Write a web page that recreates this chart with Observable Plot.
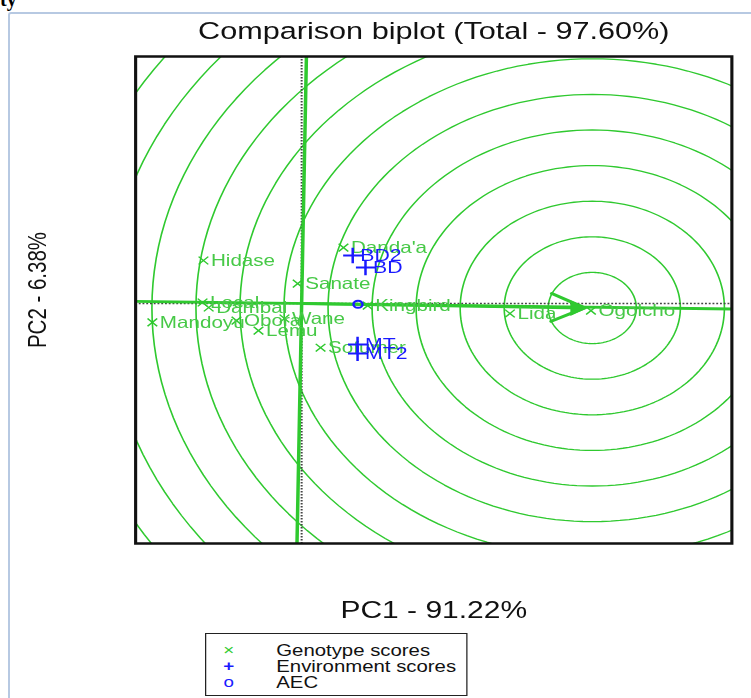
<!DOCTYPE html>
<html>
<head>
<meta charset="utf-8">
<script src="https://cdn.jsdelivr.net/npm/d3@7"></script>
<script src="https://cdn.jsdelivr.net/npm/@observablehq/plot@0.6"></script>
<style>
  html, body { margin: 0; padding: 0; background: #fff; overflow: hidden; }
  body { width: 751px; height: 698px; position: relative; font-family: "Liberation Sans", Arial, sans-serif; }
  #edge { position: absolute; left: 8px; top: 12px; width: 800px; height: 800px;
          border-left: 2px solid #b7c9e2; border-top: 2px solid #b7c9e2; border-top-left-radius: 3px; }
  #head { position: absolute; left: 0px; top: -11px; font: bold 20px/20px "Liberation Serif", serif; color: #000; }
  #wrap { position: absolute; left: 0; top: 0; width: 601px; height: 698px;
          transform: scaleX(1.25); transform-origin: 0 0; }
  #chart { position: absolute; left: 0; top: 0; }
  #legend { position: absolute; left: 164px; top: 633px; width: 210px; height: 63px;
            border: 1.5px solid #222; box-sizing: border-box; background: #fff;
            font-size: 16.3px; line-height: 16px; padding-top: 8px; color: #111; }
  .row { display: flex; align-items: center; height: 16px; }
  .sym { width: 36px; text-align: center; font-size: 15px; }
  .lab { margin-left: 20px; white-space: nowrap; }
</style>
</head>
<body>
<div id="edge"></div>
<div id="head">ty</div>
<div id="wrap">
  <div id="chart"></div>
  <div id="legend">
    <div class="row"><span class="sym" style="color:#33cc33">×</span><span class="lab">Genotype scores</span></div>
    <div class="row"><span class="sym" style="color:#1a1aff;font-weight:bold">+</span><span class="lab">Environment scores</span></div>
    <div class="row"><span class="sym" style="color:#1a1aff">o</span><span class="lab">AEC</span></div>
  </div>
</div>
<script>
// ---- data ----
const genotypes = ["Hidase", "Danda'a", "Sanate", "Kingbird", "Local", "Dambal", "Mandoyu", "Obora", "Wane", "Lemu", "Sofumer", "Lida", "Ogolcho"];
const genoPC1 = [-2.23, 0.95, -0.09, 1.50, -2.25, -2.11, -3.39, -1.48, -0.39, -0.98, 0.43, 4.73, 6.57];
const genoPC2 = [1.21, 1.57, 0.56, -0.06, 0.03, -0.11, -0.53, -0.48, -0.42, -0.76, -1.24, -0.28, -0.20];

const environments = ["BD2", "BD", "MT", "MT2"];
const envPC1 = [1.16, 1.45, 1.27, 1.27];
const envPC2 = [1.35, 1.01, -1.15, -1.40];

const aecPoint = [1.28, -0.02];       // average environment coordinate
const idealPoint = [6.60, -0.125];    // ideal genotype (centre of the rings)
const ringRadii = [1, 2, 3, 4, 5, 6, 7, 8, 9, 10, 11, 12, 13];

const titleText = "Comparison biplot (Total - 97.60%)";
const xTitle = "PC1 - 91.22%";
const yTitle = "PC2 - 6.38%";

// ---- derived tables ----
const geno = genotypes.map((name, i) => ({name, x: genoPC1[i], y: genoPC2[i]}));
const env = environments.map((name, i) => ({name, x: envPC1[i], y: envPC2[i]}));

const ringPts = [];
for (const r of ringRadii) {
  for (let k = 0; k <= 360; k += 2) {
    const a = k * Math.PI / 180;
    ringPts.push({r, x: idealPoint[0] + r * Math.cos(a), y: idealPoint[1] + r * Math.sin(a)});
  }
}
const len = Math.hypot(aecPoint[0], aecPoint[1]);
const ux = aecPoint[0] / len, uy = aecPoint[1] / len;
const aecLine = [-20, 20].map(t => ({x: t * ux, y: t * uy}));
const ordLine = [-20, 20].map(t => ({x: -t * uy, y: t * ux}));

const green = "#2fc92f";
const labelGreen = "#47c947";
const blue = "#1a1aff";

const chart = Plot.plot({
  width: 601,
  height: 625,
  marginLeft: 108,
  marginRight: 16,
  marginTop: 56,
  marginBottom: 82,
  x: {domain: [-3.77, 9.77], axis: null},
  y: {domain: [-6.74, 6.94], axis: null},
  style: {fontFamily: "'Liberation Sans', Arial, sans-serif", background: "transparent", overflow: "visible"},
  marks: [
    Plot.line(ringPts, {x: "x", y: "y", z: "r", stroke: green, strokeWidth: 1.3, clip: true}),
    Plot.ruleX([0], {stroke: "#444", strokeWidth: 1.6, strokeDasharray: "1.5,1.5"}),
    Plot.ruleY([0], {stroke: "#444", strokeWidth: 1.6, strokeDasharray: "1.5,1.5"}),
    Plot.line(aecLine, {x: "x", y: "y", stroke: green, strokeWidth: 2.8, clip: true}),
    Plot.line(ordLine, {x: "x", y: "y", stroke: green, strokeWidth: 2.8, clip: true}),
    Plot.arrow([{x1: 0, y1: 0, x2: idealPoint[0], y2: idealPoint[1]}],
      {x1: "x1", y1: "y1", x2: "x2", y2: "y2", stroke: green, strokeWidth: 3, headLength: 15, headAngle: 55, insetEnd: 6}),
    Plot.dot([idealPoint], {x: d => d[0], y: d => d[1], symbol: "triangle", rotate: 90, r: 5.2, fill: green, stroke: green, strokeWidth: 1, dx: -13}),
    Plot.dot(geno, {x: "x", y: "y", symbol: "times", stroke: green, r: 3.6, strokeWidth: 1.3}),
    Plot.text(geno, {x: "x", y: "y", text: "name", textAnchor: "start", dx: 6, fill: labelGreen, fontSize: 16.5}),
    Plot.dot(env, {x: "x", y: "y", symbol: "plus", stroke: blue, r: 5, strokeWidth: 2}),
    Plot.text(env, {x: "x", y: "y", text: "name", textAnchor: "start", dx: 6, fill: blue, fontSize: 17}),
    Plot.dot([aecPoint], {x: d => d[0], y: d => d[1], symbol: "circle", stroke: blue, r: 3.6, strokeWidth: 2}),
    Plot.frame({stroke: "#111", strokeWidth: 2.5}),
    Plot.text([titleText], {frameAnchor: "top", lineAnchor: "middle", textAnchor: "middle", dy: -25, fontSize: 24.5, fill: "#111"}),
    Plot.text([xTitle], {frameAnchor: "bottom", lineAnchor: "middle", textAnchor: "middle", dy: 67, fontSize: 24, fill: "#111"}),
    Plot.text([yTitle], {frameAnchor: "left", lineAnchor: "middle", textAnchor: "middle", dx: -78, dy: -10, rotate: -90, fontSize: 20.5, fill: "#111"})
  ]
});
document.getElementById("chart").appendChild(chart);
</script>
</body>
</html>
